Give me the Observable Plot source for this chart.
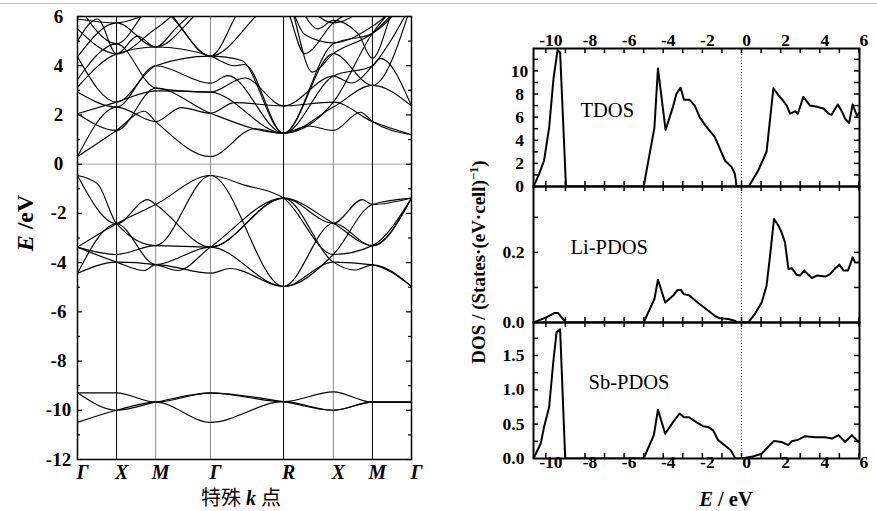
<!DOCTYPE html>
<html><head><meta charset="utf-8">
<script src="https://cdn.jsdelivr.net/npm/d3@7"></script>
<script src="https://cdn.jsdelivr.net/npm/@observablehq/plot@0.6"></script>
<style>
body{margin:0;background:#fff;}
#wrap{position:relative;width:877px;height:511px;overflow:hidden;background:#fff;font-family:"Liberation Serif","Times New Roman",serif;}
svg{overflow:visible;}
.lbl{position:absolute;white-space:nowrap;color:#000;font-weight:bold;line-height:1.5;padding:0 2px;}
.cjk{font-family:"Liberation Serif","Noto Sans CJK SC",serif;}
.cjk .h{font-family:"Noto Sans CJK SC",sans-serif;font-weight:normal;}
</style></head><body><div id="wrap"></div>
<script>
// ---------- Band structure data ----------
const kTicks = [0, 0.117, 0.234, 0.398, 0.617, 0.766, 0.883, 1];
const kLabels = ["Γ", "X", "M", "Γ", "R", "X", "M", "Γ"];
const kBlack = [0.117, 0.617, 0.883];
const kGrey = [0.234, 0.398, 0.766];
const eMajor = [-12, -10, -8, -6, -4, -2, 0, 2, 4, 6];
const eMinor = [-11, -9, -7, -5, -3, -1, 1, 3, 5];

const lowBands = [
  [[0,-9.29],[.117,-9.29],[.234,-9.67],[.398,-9.29],[.617,-9.65],[.766,-9.25],[.883,-9.67],[1,-9.67]],
  [[0,-9.29],[.117,-10.0],[.234,-9.67],[.398,-9.3],[.617,-9.65],[.766,-10.0],[.883,-9.67],[1,-9.67]],
  [[0,-10.49],[.117,-10.0],[.234,-9.67],[.398,-10.49],[.617,-9.65],[.766,-10.0],[.883,-9.67],[1,-9.67]]
];
const valenceBands = [
  [[0,-0.46],[.117,-2.42],[.21,-1.44],[.234,-1.64],[.398,-3.37],[.617,-1.38],[.766,-2.40],[.853,-1.44],[.883,-1.64],[1,-1.38]],
  [[0,-0.46],[.06,-0.8],[.117,-2.42],[.234,-3.31],[.398,-0.46],[.5,-0.85],[.617,-1.38],[.766,-3.67],[.883,-3.31],[1,-1.38]],
  [[0,-3.37],[.117,-2.42],[.234,-1.64],[.398,-0.46],[.617,-4.97],[.766,-3.98],[.883,-4.09],[1,-4.97]],
  [[0,-3.37],[.117,-3.67],[.234,-3.31],[.398,-3.37],[.617,-1.38],[.766,-2.40],[.883,-3.31],[1,-1.38]],
  [[0,-3.37],[.117,-3.98],[.2,-4.32],[.234,-4.08],[.398,-4.43],[.458,-4.24],[.617,-4.97],[.766,-3.67],[.883,-1.64],[1,-1.38]],
  [[0,-4.43],[.117,-3.98],[.234,-4.08],[.3,-4.32],[.398,-3.37],[.617,-1.38],[.766,-3.98],[.83,-4.30],[.883,-4.09],[1,-4.97]],
  [[0,-4.43],[.117,-2.42],[.234,-4.08],[.398,-3.37],[.617,-4.97],[.766,-2.40],[.883,-3.31],[1,-1.38]]
];
const conductionBands = [
  [[0,.31],[.117,1.37],[.2,2.15],[.234,1.73],[.398,.31],[.53,1.44],[.617,1.26],[.69,1.55],[.766,1.37],[.847,2.11],[.883,1.73],[1,1.2]],
  [[0,.31],[.117,2.32],[.234,1.73],[.31,2.3],[.398,2.07],[.47,2.5],[.617,2.37],[.766,2.52],[.883,1.73],[1,1.2]],
  [[0,2.05],[.117,1.37],[.234,3.09],[.398,2.07],[.617,1.26],[.766,2.32],[.883,3.2],[1,2.37]],
  [[0,2.05],[.117,2.52],[.234,2.98],[.398,2.93],[.617,1.26],[.766,3.58],[.883,3.99],[.907,4.3],[1,2.37]],
  [[0,2.93],[.117,2.32],[.234,4.0],[.398,3.29],[.45,3.6],[.617,1.26],[.766,4.49],[.883,3.2],[1,6.5]],
  [[0,3.13],[.117,4.48],[.234,4.76],[.398,4.39],[.47,4.0],[.5,4.05],[.617,1.26],[.766,2.52],[.883,5.32],[1,7]],
  [[0,3.44],[.117,4.89],[.234,3.09],[.398,2.93],[.5,3.5],[.617,2.37],[.766,3.58],[.82,3.3],[.883,3.99],[1,6.5]],
  [[0,4.36],[.117,2.52],[.234,4.0],[.398,4.39],[.49,4.22],[.617,1.26],[.766,4.89],[.883,5.32],[1,7]],
  [[0,4.36],[.117,5.74],[.234,4.76],[.398,6.5],[.617,7],[.766,5.74],[.883,6.5],[1,7.5]],
  [[0,5.5],[.117,4.48],[.234,5.5],[.398,7],[.617,6.5],[.68,4.49],[.766,5.74],[.883,6.5],[1,7]],
  [[0,6.5],[.117,4.89],[.234,6.5],[.398,4.39],[.5,6.5],[.617,7],[.703,3.74],[.766,4.49],[.883,5.32],[1,7]],
  [[0,5.0],[.06,5.9],[.117,4.48],[.18,5.2],[.234,4.76],[.3,5.6],[.398,6.6],[.617,6.8],[.68,5.27],[.766,4.93],[.883,5.6],[1,7]],
  [[0,5.9],[.117,5.74],[.25,6.2],[.398,4.39],[.54,6.1],[.617,7.2],[.72,5.5],[.766,5.84],[.84,5.3],[.883,4.3],[.95,6.4],[1,7]]
];

// ---------- DOS data ([E, DOS]) ----------
const tdos = [[-10.63,0],[-10.34,1.1],[-10.09,2.25],[-9.83,5.1],[-9.61,9.3],[-9.4,11.8],[-9.27,11.6],[-8.97,0],[-5.0,0],[-4.45,5.1],[-4.27,10.2],[-3.88,4.9],[-3.5,6.9],[-3.33,8.0],[-3.11,8.55],[-2.94,7.5],[-2.65,7.5],[-2.39,7.0],[-2.14,6.0],[-1.79,5.15],[-1.37,4.3],[-1.11,3.3],[-0.85,2.25],[-0.51,1.7],[-0.34,1.1],[-0.25,0],[0.37,0],[0.86,1.4],[1.28,3.0],[1.63,8.5],[1.88,7.9],[2.14,7.4],[2.31,7.0],[2.48,6.3],[2.74,6.5],[2.88,6.3],[3.16,7.75],[3.5,7.0],[3.85,6.9],[4.19,6.75],[4.45,6.3],[4.6,6.2],[4.92,7.1],[5.13,6.5],[5.3,5.85],[5.5,5.5],[5.68,7.1],[5.9,6.1],[6.12,6.6]];
const liPdos = [[-10.63,0],[-10.0,0.014],[-9.57,0.027],[-9.37,0.027],[-9.15,0.012],[-8.97,0],[-5.0,0],[-4.45,0.067],[-4.27,0.122],[-3.9,0.057],[-3.5,0.076],[-3.27,0.093],[-3.1,0.093],[-2.95,0.081],[-2.68,0.078],[-2.31,0.06],[-1.79,0.038],[-1.37,0.019],[-1.11,0.012],[-0.68,0.01],[-0.34,0.005],[-0.2,0],[0.34,0],[0.68,0.024],[1.03,0.057],[1.28,0.105],[1.45,0.186],[1.66,0.295],[1.85,0.28],[2.05,0.257],[2.22,0.229],[2.4,0.152],[2.57,0.155],[2.82,0.136],[2.99,0.134],[3.21,0.148],[3.42,0.136],[3.59,0.127],[3.85,0.134],[4.27,0.131],[4.53,0.138],[4.79,0.155],[5.0,0.165],[5.22,0.148],[5.44,0.148],[5.68,0.186],[5.81,0.171],[6.0,0.171],[6.2,0.19]];
const sbPdos = [[-10.63,0],[-10.26,0.218],[-10.09,0.46],[-9.83,0.75],[-9.61,1.43],[-9.45,1.84],[-9.27,1.88],[-9.01,0],[-5.0,0],[-4.48,0.34],[-4.27,0.71],[-3.9,0.36],[-3.5,0.53],[-3.16,0.655],[-2.94,0.6],[-2.68,0.6],[-2.31,0.53],[-1.97,0.47],[-1.71,0.46],[-1.45,0.41],[-1.2,0.27],[-0.85,0.19],[-0.55,0.12],[-0.31,0],[0.0,0],[0.51,0.024],[1.03,0.07],[1.28,0.145],[1.66,0.256],[2.05,0.24],[2.39,0.194],[2.57,0.25],[2.91,0.275],[3.25,0.325],[3.76,0.31],[4.27,0.31],[4.62,0.29],[4.96,0.34],[5.3,0.24],[5.64,0.34],[5.98,0.24],[6.1,0.29]];
const eDosTicks = [-10,-9,-8,-7,-6,-5,-4,-3,-2,-1,0,1,2,3,4,5,6];
const eDosLabels = [-10,-8,-6,-4,-2,0,2,4,6];
const tdosTicks = [1,2,3,4,5,6,7,8,9,10,11];
const tdosLabels = [0,2,4,6,8,10];
const liTicks = [0.1,0.2,0.3];
const liLabels = [0.0,0.2];
const sbTicks = [0.25,0.5,0.75,1.0,1.25,1.5,1.75];
const sbLabels = [0.0,0.5,1.0,1.5];

// ---------- drawing ----------
const serif = '"Liberation Serif","Times New Roman",serif';
const wrap = document.getElementById("wrap");
function place(el, left, top){ el.style.position="absolute"; el.style.left=left+"px"; el.style.top=top+"px"; wrap.appendChild(el); }

const topRule = document.createElement("div");
topRule.style.cssText="position:absolute;left:0;top:3px;width:877px;height:1px;background:#c4c4c4;";
wrap.appendChild(topRule);

// Left: band structure
const LW=440, LH=511, LML=77, LMR=29, LMT=16, LMB=52;
const innerLW = LW-LML-LMR;
const bandRows = [...lowBands, ...valenceBands, ...conductionBands]
  .flatMap((b,i)=>b.map(([k,E])=>({k, E, band:i})));
const kLabelRows = kTicks.map((k,i)=>({k, label:kLabels[i]}));
const leftPlot = Plot.plot({
  width: LW, height: LH, marginLeft: LML, marginRight: LMR, marginTop: LMT, marginBottom: LMB,
  x: {domain:[0,1], axis:null},
  y: {domain:[-12,6], axis:null},
  style: {fontFamily: serif, background:"transparent", color:"#000"},
  marks: [
    Plot.ruleY([0], {stroke:"#a0a0a0", strokeWidth:1}),
    Plot.ruleX(kGrey, {stroke:"#8a8a8a", strokeWidth:1}),
    Plot.ruleX(kBlack, {stroke:"#000", strokeWidth:1}),
    Plot.line(bandRows, {x:"k", y:"E", z:"band", curve:"monotone-x", stroke:"#000", strokeWidth:1.15, clip:true}),
    Plot.tickY(eMajor, {y:d=>d, insetRight: innerLW-5, strokeWidth:1.2}),
    Plot.tickY(eMinor, {y:d=>d, insetRight: innerLW-3, strokeWidth:1.2}),
    Plot.tickY(eMajor, {y:d=>d, insetLeft: innerLW-5, strokeWidth:1.2}),
    Plot.tickY(eMinor, {y:d=>d, insetLeft: innerLW-3, strokeWidth:1.2}),
    Plot.text(eMajor, {y:d=>d, frameAnchor:"left", dx:-19, text:d=>String(d), textAnchor:"middle", fontSize:19, fontWeight:"bold"}),
    Plot.text(kLabelRows, {x:"k", text:"label", frameAnchor:"bottom", dy:19, dx:5, fontSize:20, fontWeight:"bold", fontStyle:"italic"}),
    Plot.frame({stroke:"#000", strokeWidth:1.5})
  ]
});
place(leftPlot, 0, 0);

// Right: DOS panels
function dosPanel(o){
  const W=417, ML=73, MR=18;
  const innerW = W-ML-MR;
  const innerH = o.height - o.mt - o.mb;
  const marks = [
    Plot.ruleX([0], {stroke:"#555", strokeDasharray:"1,2", strokeWidth:1}),
    Plot.line(o.data, {x:d=>d[0], y:d=>d[1], stroke:"#000", strokeWidth:2, strokeLinejoin:"round", clip:true}),
    Plot.tickX(eDosTicks, {x:d=>d, insetTop: innerH-5, strokeWidth:1.5}),
    Plot.tickX(eDosTicks, {x:d=>d, insetBottom: innerH-5, strokeWidth:1.5}),
    Plot.tickY(o.yTicks, {y:d=>d, insetRight: innerW-5, strokeWidth:1.5}),
    Plot.tickY(o.yTicks, {y:d=>d, insetLeft: innerW-5, strokeWidth:1.5}),
    Plot.text(o.yLabels, {y:d=>d, frameAnchor:"left", dx:o.ldx, text:o.fmt, textAnchor:"middle", fontSize:17.5, fontWeight:"bold"}),
    Plot.text([o.name], {frameAnchor:"top-left", dx:o.dx, dy:o.dy, text:d=>d, textAnchor:"start", lineAnchor:"middle", fontSize:20.5}),
    Plot.frame({stroke:"#000", strokeWidth:2})
  ];
  if (o.top) marks.push(Plot.text(eDosLabels, {x:d=>d, frameAnchor:"top", dy:-15, dx:5, text:d=>String(d), fontSize:17.5, fontWeight:"bold"}));
  if (o.bottom) marks.push(Plot.text(eDosLabels, {x:d=>d, frameAnchor:"bottom", dy:9, dx:5, text:d=>String(d), fontSize:17.5, fontWeight:"bold"}));
  return Plot.plot({
    width: W, height: o.height, marginLeft: ML, marginRight: MR, marginTop: o.mt, marginBottom: o.mb,
    x: {domain:[-10.63, 6.03], axis:null},
    y: {domain:o.yDomain, axis:null},
    style: {fontFamily: serif, background:"transparent", color:"#000"},
    marks
  });
}
const p1 = dosPanel({data:tdos, yDomain:[0,11.94], yTicks:tdosTicks, yLabels:tdosLabels, fmt:d=>String(d), ldx:-14,
  height:186, mt:48, mb:0, name:"TDOS", dx:47, dy:62, top:true});
const p2 = dosPanel({data:liPdos, yDomain:[0,0.388], yTicks:liTicks, yLabels:liLabels, fmt:d=>d.toFixed(1), ldx:-20,
  height:136, mt:0, mb:0, name:"Li-PDOS", dx:37, dy:61});
const p3 = dosPanel({data:sbPdos, yDomain:[0,1.98], yTicks:sbTicks, yLabels:sbLabels, fmt:d=>d.toFixed(1), ldx:-20,
  height:189, mt:0, mb:53, name:"Sb-PDOS", dx:55, dy:60, bottom:true});
place(p1, 460, 0);
place(p2, 460, 186);
place(p3, 460, 322);

// Axis titles (HTML text)
function label(html, cx, cy, size, rotate, cls){
  const d = document.createElement("div");
  d.className = "lbl" + (cls ? " " + cls : "");
  d.innerHTML = html;
  d.style.fontSize = size+"px";
  d.style.left = cx+"px"; d.style.top = cy+"px";
  d.style.transform = "translate(-50%,-50%)" + (rotate ? " rotate(-90deg)" : "");
  wrap.appendChild(d);
}
label('<i>E</i> /eV', 25, 223, 24, true);
label('<span class="h">特殊</span> <i>k</i> <span class="h">点</span>', 241, 497, 20, false, "cjk");
label('DOS / (States·(eV·cell)<sup style="font-size:12.5px">−1</sup>)', 479, 262, 19, true);
label('<i>E</i> / eV', 726, 499, 20.5, false);
</script></body></html>
